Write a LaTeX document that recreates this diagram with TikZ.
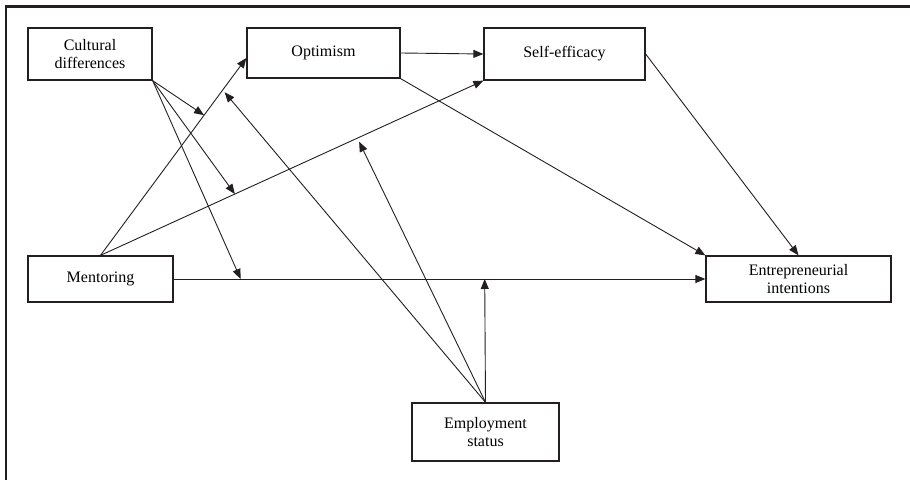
\documentclass[tikz,border=0pt]{standalone}
\usepackage{fontspec}
\setmainfont{Liberation Serif}
\usepackage{tikz}
\usetikzlibrary{arrows.meta}
\definecolor{inkgray}{RGB}{35,31,32}

\begin{document}
\begin{tikzpicture}[x=0.5pt,y=-0.5pt,
  box/.style={draw=inkgray,line width=0.65pt,inner sep=0pt,align=center,font=\fontsize{8}{9}\selectfont},
  link/.style={draw=inkgray,line width=0.45pt,-{Triangle[length=5pt,width=4pt]}}]
  \useasboundingbox (0,0) rectangle (910,480);
  \draw[inkgray,line width=1.4pt] (6,480) -- (6,6.5) -- (910,6.5);
  \node[box,minimum width=62pt,minimum height=26pt] (cult) at (90,54) {Cultural\\differences};
  \node[box,minimum width=76.5pt,minimum height=25pt] (opt) at (323.5,53) {Optimism};
  \node[box,minimum width=80.5pt,minimum height=26pt] (self) at (564.5,54) {Self-efficacy};
  \node[box,minimum width=72.5pt,minimum height=23pt] (ment) at (100.5,279) {Mentoring};
  \node[box,minimum width=92.5pt,minimum height=23pt] (entr) at (798.5,279) {Entrepreneurial\\intentions};
  \node[box,minimum width=73.5pt,minimum height=29pt] (empl) at (485.5,432) {Employment\\status};
  % direct paths
  \draw[link] (ment.north) -- ([yshift=-2.5pt]opt.west) coordinate[pos=0.71] (mo1) coordinate[pos=0.838] (mo2);
  \draw[link] (ment.north) -- (self.south west) coordinate[pos=0.351] (ms1) coordinate[pos=0.671] (ms2);
  \draw[link] (ment.east) -- (entr.west) coordinate[pos=0.126] (me1) coordinate[pos=0.585] (me2);
  \draw[link] (opt.east) -- (self.west);
  \draw[link] (opt.south east) -- (entr.north west);
  \draw[link] (self.east) -- (entr.north);
  % moderators
  \draw[link] (cult.south east) -- (mo1);
  \draw[link] (cult.south east) -- (ms1);
  \draw[link] (cult.south east) -- (me1);
  \draw[link,shorten >=1.5pt] (empl.north) -- (mo2);
  \draw[link,shorten >=2pt] (empl.north) -- (ms2);
  \draw[link] (empl.north) -- (me2);
\end{tikzpicture}
\end{document}
